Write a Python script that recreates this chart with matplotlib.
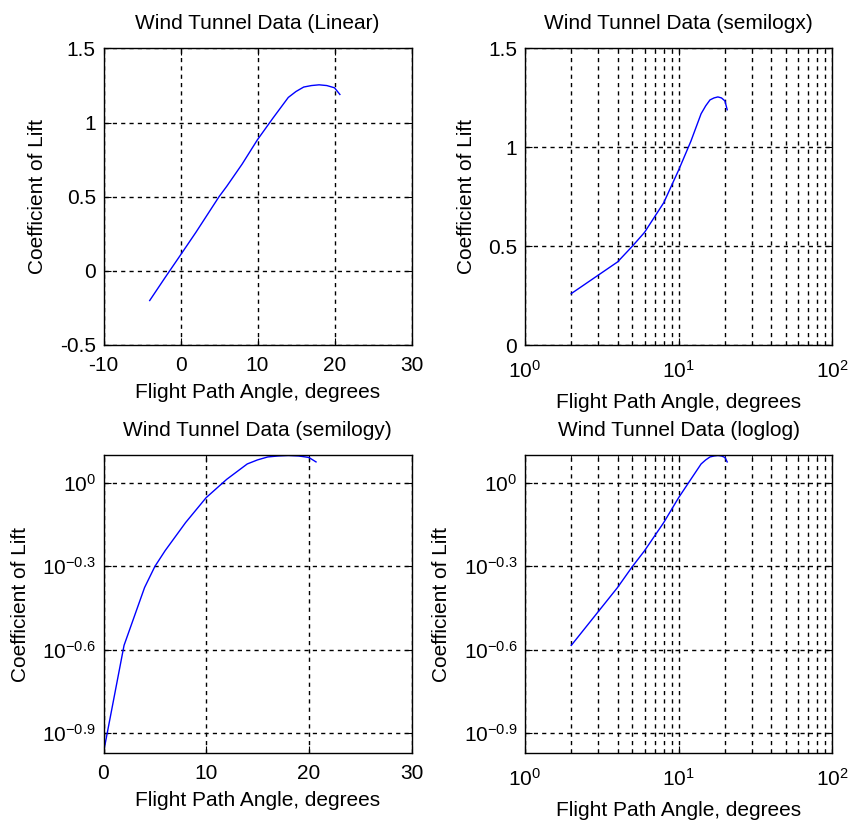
import numpy as np
import matplotlib
matplotlib.use("Agg")
import matplotlib.pyplot as plt
from matplotlib.ticker import FixedLocator, FixedFormatter, NullFormatter, LogLocator

# ---- data ----
alpha = np.array([-4, -2, 0, 2, 4, 5, 6, 8, 10, 12, 14, 15, 16, 17, 18, 19, 20, 20.7])
cl = np.array([-0.2, -0.045, 0.107, 0.26, 0.42, 0.5, 0.57, 0.72, 0.885, 1.03, 1.17,
               1.21, 1.24, 1.25, 1.255, 1.25, 1.235, 1.19])

titles = ["Wind Tunnel Data (Linear)", "Wind Tunnel Data (semilogx)",
          "Wind Tunnel Data (semilogy)", "Wind Tunnel Data (loglog)"]
xlabel = "Flight Path Angle, degrees"
ylabel = "Coefficient of Lift"

lin_xticks = [-10, 0, 10, 20, 30]
lin_yticks = [-0.5, 0, 0.5, 1, 1.5]
lin_ytick_labels = ["-0.5", "0", "0.5", "1", "1.5"]
semx_yticks = [0, 0.5, 1, 1.5]
semx_ytick_labels = ["0", "0.5", "1", "1.5"]
semy_xticks = [0, 10, 20, 30]
log_xticks = [1, 10, 100]
log_xtick_labels = [r"$10^{0}$", r"$10^{1}$", r"$10^{2}$"]
log_yexp = [0, -0.3, -0.6, -0.9]
log_ytick_labels = [r"$10^{0}$", r"$10^{-0.3}$", r"$10^{-0.6}$", r"$10^{-0.9}$"]

plt.rcParams["font.family"] = ["Liberation Sans", "DejaVu Sans"]
plt.rcParams["mathtext.fontset"] = "custom"
plt.rcParams["mathtext.rm"] = "Liberation Sans"
plt.rcParams["mathtext.it"] = "Liberation Sans:italic"
plt.rcParams["mathtext.default"] = "regular"
plt.rcParams["axes.unicode_minus"] = False
FS = 15

fig = plt.figure(figsize=(8.5, 8.22), dpi=100)
W, H = 850.0, 822.0
cols = [(103.5, 411.5), (525, 832.3)]
rows = [(48.5, 345), (455.5, 752.5)]

def make_ax(c, r):
    x0, x1 = cols[c]
    y0, y1 = rows[r]
    return fig.add_axes([x0 / W, 1 - y1 / H, (x1 - x0) / W, (y1 - y0) / H])

grid_kw = dict(color="black", linestyle=(0, (3, 3)), linewidth=1.0)
line_kw = dict(color="#0000ff", linewidth=1.0)

def style(ax, title, logx=False):
    ax.set_title(title, fontsize=FS, pad=14)
    ax.set_xlabel(xlabel, fontsize=FS, labelpad=8 if logx else 6)
    ax.set_ylabel(ylabel, fontsize=FS, labelpad=9)
    for s in ax.spines.values():
        s.set_linewidth(1.0)
        s.set_color("black")
    ax.tick_params(which="both", direction="in", top=True, right=True,
                   labelsize=FS, color="black")
    ax.tick_params(axis="x", which="major", length=5, pad=11 if logx else 8)
    ax.tick_params(axis="y", which="major", length=5, pad=5.5)
    ax.tick_params(which="minor", length=3)

# Linear
ax = make_ax(0, 0)
ax.plot(alpha, cl, **line_kw)
ax.set_xlim(lin_xticks[0], lin_xticks[-1])
ax.set_ylim(lin_yticks[0], lin_yticks[-1])
ax.set_xticks(lin_xticks)
ax.set_yticks(lin_yticks)
ax.set_yticklabels(lin_ytick_labels)
ax.grid(True, which="major", **grid_kw)
style(ax, titles[0])

# semilogx
ax = make_ax(1, 0)
m = alpha > 0
ax.plot(alpha[m], cl[m], **line_kw)
ax.set_xscale("log")
ax.set_xlim(log_xticks[0], log_xticks[-1])
ax.set_ylim(semx_yticks[0], semx_yticks[-1])
ax.xaxis.set_major_locator(FixedLocator(log_xticks))
ax.xaxis.set_major_formatter(FixedFormatter(log_xtick_labels))
ax.xaxis.set_minor_locator(LogLocator(base=10, subs=np.arange(2, 10)))
ax.xaxis.set_minor_formatter(NullFormatter())
ax.set_yticks(semx_yticks)
ax.set_yticklabels(semx_ytick_labels)
ax.grid(True, which="both", axis="x", **grid_kw)
ax.grid(True, which="major", axis="y", **grid_kw)
style(ax, titles[1], logx=True)

# semilogy
ax = make_ax(0, 1)
m = cl > 0
ax.plot(alpha[m], cl[m], **line_kw)
ax.set_yscale("log")
ax.set_xlim(semy_xticks[0], semy_xticks[-1])
ax.set_ylim(cl[m].min(), cl[m].max())
ax.set_xticks(semy_xticks)
ax.yaxis.set_major_locator(FixedLocator([10.0 ** e for e in log_yexp]))
ax.yaxis.set_major_formatter(FixedFormatter(log_ytick_labels))
ax.yaxis.set_minor_locator(FixedLocator([]))
ax.yaxis.set_minor_formatter(NullFormatter())
ax.grid(True, which="major", **grid_kw)
style(ax, titles[2])

# loglog
ax = make_ax(1, 1)
m = (alpha > 0) & (cl > 0)
ax.plot(alpha[m], cl[m], **line_kw)
ax.set_xscale("log")
ax.set_yscale("log")
ax.set_xlim(log_xticks[0], log_xticks[-1])
ax.set_ylim(cl[cl > 0].min(), cl[cl > 0].max())
ax.xaxis.set_major_locator(FixedLocator(log_xticks))
ax.xaxis.set_major_formatter(FixedFormatter(log_xtick_labels))
ax.xaxis.set_minor_locator(LogLocator(base=10, subs=np.arange(2, 10)))
ax.xaxis.set_minor_formatter(NullFormatter())
ax.yaxis.set_major_locator(FixedLocator([10.0 ** e for e in log_yexp]))
ax.yaxis.set_major_formatter(FixedFormatter(log_ytick_labels))
ax.yaxis.set_minor_locator(FixedLocator([]))
ax.yaxis.set_minor_formatter(NullFormatter())
ax.grid(True, which="both", axis="x", **grid_kw)
ax.grid(True, which="major", axis="y", **grid_kw)
style(ax, titles[3], logx=True)

fig.savefig("out.png", dpi=100)
